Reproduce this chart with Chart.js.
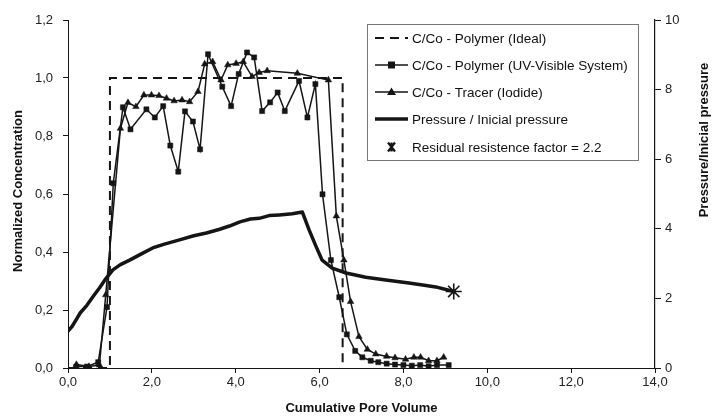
<!DOCTYPE html>
<html>
<head>
<meta charset="utf-8">
<script src="https://cdn.jsdelivr.net/npm/chart.js@4.4.1/dist/chart.umd.min.js"></script>
<style>
  html, body { margin: 0; padding: 0; background: #fff; }
  #wrap { width: 716px; height: 419px; position: relative; }
</style>
</head>
<body>
<div id="wrap"><canvas id="c" width="716" height="419"></canvas></div>
<script>
// ---- Data ----
const idealPV = [0, 1.0, 1.0, 6.55, 6.55];
const idealC  = [0, 0, 1.0, 1.0, 0];

const polymerPV = [0.2, 0.45, 0.72, 0.93, 1.08, 1.31, 1.49, 1.87, 2.07, 2.27, 2.44, 2.63, 2.79, 2.98, 3.15, 3.34, 3.68, 3.89, 4.07, 4.27, 4.44, 4.63, 4.82, 5.0, 5.17, 5.51, 5.71, 5.9, 6.07, 6.27, 6.47, 6.65, 6.85, 7.02, 7.22, 7.4, 7.6, 7.8, 8.0, 8.2, 8.4, 8.6, 8.8, 9.08];
const polymerC  = [0.005, 0.005, 0.02, 0.21, 0.637, 0.899, 0.823, 0.892, 0.864, 0.903, 0.767, 0.677, 0.885, 0.85, 0.754, 1.082, 0.97, 0.903, 1.014, 1.088, 1.071, 0.886, 0.916, 0.95, 0.886, 0.99, 0.864, 0.979, 0.599, 0.372, 0.244, 0.116, 0.059, 0.037, 0.025, 0.02, 0.015, 0.012, 0.01, 0.008, 0.01, 0.006, 0.01, 0.01];

const tracerPV = [0.2, 0.5, 0.75, 0.9, 1.25, 1.43, 1.62, 1.81, 1.99, 2.17, 2.35, 2.53, 2.72, 2.90, 3.10, 3.26, 3.45, 3.65, 3.81, 4.01, 4.18, 4.39, 4.56, 4.75, 5.47, 6.21, 6.40, 6.58, 6.74, 6.94, 7.14, 7.34, 7.6, 7.8, 8.05, 8.25, 8.41, 8.6, 8.8, 8.96];
const tracerC  = [0.012, 0.005, 0.01, 0.252, 0.826, 0.915, 0.901, 0.941, 0.941, 0.939, 0.93, 0.921, 0.924, 0.918, 0.953, 1.048, 1.056, 0.993, 1.045, 1.05, 1.056, 1.005, 1.019, 1.025, 1.016, 0.993, 0.524, 0.372, 0.229, 0.108, 0.064, 0.048, 0.04, 0.035, 0.03, 0.037, 0.037, 0.025, 0.025, 0.037];

const pressurePV    = [0, 0.1, 0.2, 0.29, 0.45, 0.59, 0.75, 0.88, 1.07, 1.25, 1.47, 1.75, 2.02, 2.3, 2.66, 3.0, 3.3, 3.6, 3.85, 4.1, 4.35, 4.56, 4.8, 5.04, 5.35, 5.59, 5.75, 5.92, 6.06, 6.3, 6.63, 7.1, 7.58, 8.13, 8.5, 8.77, 9.2];
const pressureRatio = [1.06, 1.2, 1.4, 1.58, 1.8, 2.04, 2.3, 2.53, 2.82, 2.97, 3.10, 3.28, 3.45, 3.56, 3.68, 3.8, 3.88, 3.98, 4.08, 4.2, 4.28, 4.3, 4.38, 4.40, 4.43, 4.48, 3.97, 3.48, 3.1, 2.87, 2.73, 2.61, 2.53, 2.44, 2.38, 2.33, 2.2];

const residualPV = [9.2];
const residualRatio = [2.2];

const xTicks  = [0, 2, 4, 6, 8, 10, 12, 14];
const yTicks  = [0, 0.2, 0.4, 0.6, 0.8, 1.0, 1.2];
const y2Ticks = [0, 2, 4, 6, 8, 10];

const legendLabels = [
  'C/Co - Polymer (Ideal)',
  'C/Co - Polymer (UV-Visible System)',
  'C/Co - Tracer (Iodide)',
  'Pressure / Inicial pressure',
  'Residual resistence factor = 2.2'
];

const xTitle = 'Cumulative Pore Volume';
const yTitle = 'Normalized Concentration';
const y2Title = 'Pressure/Inicial pressure';

// ---- helpers ----
const zip = (xs, ys) => xs.map((x, i) => ({ x: x, y: ys[i] }));
const INK = '#151515';
const FONT = '"Liberation Sans", Arial, sans-serif';

const legendSymbols = [
  { line: 2, dash: [9, 6], marker: null },
  { line: 1.5, dash: [], marker: 'rect' },
  { line: 1.5, dash: [], marker: 'triangle' },
  { line: 3.5, dash: [], marker: null },
  { line: 0, dash: [], marker: 'asterisk' }
];

const legendPlugin = {
  id: 'customLegend',
  afterDraw(chart) {
    const ctx = chart.ctx;
    const ca = chart.chartArea;
    const left = ca.left + 299, top = ca.top + 4, right = ca.left + 570, bottom = ca.top + 140;
    ctx.save();
    ctx.fillStyle = '#fff';
    ctx.fillRect(left, top, right - left, bottom - top);
    ctx.strokeStyle = '#777';
    ctx.lineWidth = 1;
    ctx.strokeRect(left + 0.5, top + 0.5, right - left, bottom - top);
    const rows = [14, 41, 68, 95, 123];
    const x0 = left + 8, x1 = left + 41, tx = left + 45;
    legendSymbols.forEach((sym, i) => {
      const y = top + rows[i];
      const cx = (x0 + x1) / 2;
      ctx.strokeStyle = INK;
      ctx.fillStyle = INK;
      if (sym.line > 0) {
        ctx.beginPath();
        ctx.lineWidth = sym.line;
        ctx.setLineDash(sym.dash);
        ctx.moveTo(x0, y);
        ctx.lineTo(x1, y);
        ctx.stroke();
        ctx.setLineDash([]);
      }
      if (sym.marker === 'rect') {
        ctx.fillRect(cx - 3.5, y - 3.5, 7, 7);
      } else if (sym.marker === 'triangle') {
        ctx.beginPath();
        ctx.moveTo(cx, y - 4.5);
        ctx.lineTo(cx + 4.5, y + 3);
        ctx.lineTo(cx - 4.5, y + 3);
        ctx.closePath();
        ctx.fill();
      } else if (sym.marker === 'asterisk') {
        ctx.beginPath();
        ctx.lineWidth = 2.2;
        ctx.moveTo(cx - 3.5, y - 4.5); ctx.lineTo(cx + 3.5, y + 4.5);
        ctx.moveTo(cx + 3.5, y - 4.5); ctx.lineTo(cx - 3.5, y + 4.5);
        ctx.moveTo(cx, y - 4.5); ctx.lineTo(cx, y + 4.5);
        ctx.stroke();
      }
      ctx.fillStyle = '#111';
      ctx.font = '13.5px ' + FONT;
      ctx.textBaseline = 'middle';
      ctx.textAlign = 'left';
      ctx.fillText(legendLabels[i], tx, y + 1);
    });
    ctx.restore();
  }
};

const titlesPlugin = {
  id: 'axisTitles',
  afterDraw(chart) {
    const ctx = chart.ctx;
    const ca = chart.chartArea;
    ctx.save();
    ctx.fillStyle = '#111';
    ctx.font = 'bold 13px ' + FONT;
    ctx.textAlign = 'center';
    ctx.textBaseline = 'middle';
    ctx.fillText(xTitle, (ca.left + ca.right) / 2, ca.bottom + 40);
    ctx.save();
    ctx.translate(18, (ca.top + ca.bottom) / 2 - 3);
    ctx.rotate(-Math.PI / 2);
    ctx.fillText(yTitle, 0, 0);
    ctx.restore();
    ctx.save();
    ctx.translate(ca.right + 49, ca.top + 120);
    ctx.rotate(-Math.PI / 2);
    ctx.fillText(y2Title, 0, 0);
    ctx.restore();
    ctx.restore();
  }
};

const bgPlugin = {
  id: 'bg',
  beforeDraw(chart) {
    const ctx = chart.ctx;
    ctx.save();
    ctx.fillStyle = '#fff';
    ctx.fillRect(0, 0, chart.width, chart.height);
    ctx.restore();
  }
};

const comma1 = v => v.toFixed(1).replace('.', ',');

new Chart(document.getElementById('c'), {
  type: 'scatter',
  data: {
    datasets: [
      { data: zip(idealPV, idealC), showLine: true, borderColor: INK, borderWidth: 2, borderDash: [9, 6], pointRadius: 0, yAxisID: 'y' },
      { data: zip(polymerPV, polymerC), showLine: true, borderColor: INK, backgroundColor: INK, borderWidth: 1.5, pointStyle: 'rect', pointRadius: 3.6, pointBorderWidth: 0.5, yAxisID: 'y' },
      { data: zip(tracerPV, tracerC), showLine: true, borderColor: INK, backgroundColor: INK, borderWidth: 1.5, pointStyle: 'triangle', pointRadius: 3.8, pointBorderWidth: 0.5, yAxisID: 'y' },
      { data: zip(pressurePV, pressureRatio), showLine: true, borderColor: INK, borderWidth: 3.5, pointRadius: 0, yAxisID: 'y2', borderJoinStyle: 'round', borderCapStyle: 'round' },
      { data: zip(residualPV, residualRatio), showLine: false, borderColor: INK, backgroundColor: INK, pointStyle: 'star', pointRadius: 8, pointBorderWidth: 1.6, yAxisID: 'y2' }
    ]
  },
  options: {
    responsive: false,
    animation: false,
    events: [],
    layout: { padding: { top: 20, left: 0, right: 0, bottom: 0 } },
    plugins: { legend: { display: false }, tooltip: { enabled: false } },
    scales: {
      x: {
        type: 'linear', min: 0, max: 14,
        afterBuildTicks: s => { s.ticks = xTicks.map(v => ({ value: v })); },
        afterFit: s => { s.height = 51; },
        ticks: { callback: v => comma1(v), color: '#222', font: { family: FONT, size: 13 }, padding: 2, maxRotation: 0 },
        grid: { drawOnChartArea: false, drawTicks: true, tickLength: 5, color: INK },
        border: { color: INK, width: 1 }
      },
      y: {
        type: 'linear', position: 'left', min: 0, max: 1.2,
        afterBuildTicks: s => { s.ticks = yTicks.map(v => ({ value: v })); },
        afterFit: s => { s.width = 68; },
        ticks: { callback: v => comma1(v), color: '#222', font: { family: FONT, size: 13 }, padding: 10 },
        grid: { drawOnChartArea: false, drawTicks: true, tickLength: 5, color: INK },
        border: { color: INK, width: 1 }
      },
      y2: {
        type: 'linear', position: 'right', min: 0, max: 10,
        afterBuildTicks: s => { s.ticks = y2Ticks.map(v => ({ value: v })); },
        afterFit: s => { s.width = 61; },
        ticks: { callback: v => String(v), color: '#222', font: { family: FONT, size: 13 }, padding: 4 },
        grid: { drawOnChartArea: false, drawTicks: true, tickLength: 6, color: INK },
        border: { color: INK, width: 1.2 }
      }
    }
  },
  plugins: [bgPlugin, legendPlugin, titlesPlugin]
});
</script>
</body>
</html>
